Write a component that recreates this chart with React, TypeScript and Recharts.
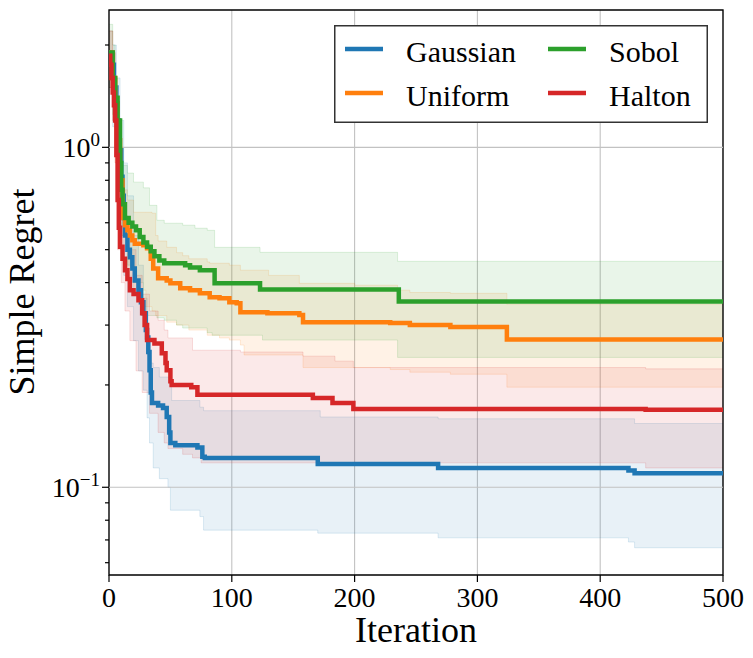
import {
  ComposedChart,
  Line,
  Area,
  XAxis,
  YAxis,
  CartesianGrid,
  ReferenceLine,
  ReferenceArea,
} from 'recharts';

// best-so-far regret: [iteration, value]
const gaussianMean: [number, number][] = [
  [0, 1.9], [2, 1.75], [4, 1.5], [6, 1.2], [8, 0.98], [10, 0.82], [11, 0.72], [12, 0.62],
  [13, 0.55], [15, 0.5], [17, 0.475], [19, 0.44], [21, 0.406], [24, 0.38], [26, 0.35],
  [28, 0.325], [30, 0.29], [31, 0.276], [32, 0.25], [33, 0.221], [34, 0.19], [35, 0.177],
  [40, 0.174], [44, 0.171], [47, 0.161], [49, 0.145], [50, 0.135], [54, 0.133], [72, 0.131],
  [76, 0.123], [78, 0.122], [170, 0.117], [268, 0.114], [423, 0.112], [428, 0.11],
];
const uniformMean: [number, number][] = [
  [0, 1.9], [3, 1.6], [5, 1.35], [7, 1.05], [9, 0.8], [11, 0.62], [13, 0.59], [15, 0.57],
  [17, 0.55], [19, 0.533], [21, 0.52], [28, 0.515], [31, 0.505], [34, 0.47], [36, 0.44],
  [40, 0.412], [47, 0.406], [50, 0.398], [58, 0.385], [66, 0.38], [74, 0.372], [82, 0.362],
  [90, 0.36], [98, 0.35], [104, 0.348], [107, 0.327], [129, 0.325], [155, 0.321],
  [158, 0.306], [229, 0.304], [245, 0.3], [278, 0.296], [324, 0.272],
];
const sobolMean: [number, number][] = [
  [0, 1.9], [3, 1.6], [5, 1.4], [7, 1.2], [9, 0.9], [10, 0.75], [11, 0.68], [13, 0.62],
  [16, 0.6], [19, 0.585], [22, 0.57], [25, 0.545], [28, 0.525], [31, 0.51], [34, 0.495],
  [37, 0.478], [41, 0.465], [45, 0.456], [62, 0.45], [66, 0.443], [74, 0.435], [86, 0.398],
  [123, 0.382], [236, 0.352],
];
const haltonMean: [number, number][] = [
  [0, 1.86], [1, 1.75], [2, 1.6], [3, 1.45], [4, 1.33], [5, 1.2], [6, 0.95], [7, 0.7],
  [8, 0.58], [9, 0.51], [11, 0.47], [13, 0.435], [15, 0.41], [17, 0.38], [20, 0.37],
  [24, 0.355], [27, 0.325], [29, 0.3], [31, 0.271], [37, 0.265], [43, 0.248], [46, 0.232],
  [47, 0.221], [50, 0.205], [51, 0.2], [67, 0.197], [72, 0.187], [166, 0.183], [182, 0.177],
  [199, 0.17], [437, 0.169],
];

// shaded spread: [iteration, low, high]
const gaussianBand: [number, number, number][] = [
  [0, 1.5, 2.2], [3, 1.15, 2.0], [6, 0.8, 1.6], [9, 0.55, 1.2], [12, 0.42, 0.9],
  [15, 0.34, 0.72], [20, 0.27, 0.55], [24, 0.22, 0.45], [28, 0.193, 0.36], [31, 0.16, 0.28],
  [33, 0.135, 0.232], [36, 0.114, 0.225], [41, 0.106, 0.211], [48, 0.1, 0.211],
  [50, 0.0856, 0.211], [51, 0.0856, 0.18], [74, 0.082, 0.172], [77, 0.0748, 0.168],
  [170, 0.0733, 0.168], [172, 0.0733, 0.161], [268, 0.071, 0.159], [423, 0.069, 0.159],
  [428, 0.0664, 0.154],
];
const uniformBand: [number, number, number][] = [
  [0, 1.5, 2.2], [3, 1.2, 1.9], [5, 0.9, 1.5], [7, 0.65, 1.1], [10, 0.5, 0.75],
  [15, 0.42, 0.7], [20, 0.38, 0.644], [30, 0.34, 0.644], [35, 0.33, 0.64], [38, 0.32, 0.55],
  [40, 0.32, 0.53], [47, 0.306, 0.508], [55, 0.3, 0.49], [60, 0.3, 0.48], [65, 0.29, 0.47],
  [80, 0.28, 0.46], [82, 0.28, 0.456], [90, 0.275, 0.456], [98, 0.271, 0.45],
  [107, 0.262, 0.435], [110, 0.245, 0.435], [130, 0.245, 0.42], [155, 0.245, 0.398],
  [158, 0.225, 0.398], [200, 0.225, 0.393], [229, 0.222, 0.393], [235, 0.222, 0.38],
  [245, 0.218, 0.374], [278, 0.215, 0.372], [324, 0.197, 0.345],
];
const sobolBand: [number, number, number][] = [
  [0, 1.5, 2.3], [3, 1.25, 2.0], [5, 1.0, 1.6], [7, 0.75, 1.2], [9, 0.6, 0.95],
  [10, 0.55, 0.885], [15, 0.45, 0.84], [20, 0.4, 0.79], [28, 0.34, 0.76], [30, 0.32, 0.76],
  [33, 0.32, 0.675], [39, 0.315, 0.61], [45, 0.31, 0.598], [55, 0.3, 0.598],
  [60, 0.294, 0.59], [70, 0.294, 0.578], [80, 0.285, 0.57], [84, 0.28, 0.57],
  [86, 0.28, 0.508], [123, 0.28, 0.491], [125, 0.271, 0.491], [235, 0.241, 0.462],
];
const haltonBand: [number, number, number][] = [
  [0, 1.5, 2.2], [3, 1.2, 1.9], [5, 0.9, 1.4], [7, 0.5, 1.0], [10, 0.4, 0.75],
  [13, 0.33, 0.6], [17, 0.27, 0.5], [22, 0.22, 0.42], [27, 0.19, 0.37], [33, 0.165, 0.33],
  [40, 0.145, 0.31], [45, 0.135, 0.29], [48, 0.13, 0.275], [60, 0.125, 0.275],
  [68, 0.122, 0.253], [75, 0.118, 0.253], [107, 0.118, 0.25], [158, 0.118, 0.243],
  [184, 0.118, 0.235], [199, 0.118, 0.225], [437, 0.114, 0.223],
];

const xTicks = [0, 100, 200, 300, 400, 500];
const yTicks = [0.06, 0.07, 0.08, 0.09, 0.1, 0.2, 0.3, 0.4, 0.5, 0.6, 0.7, 0.8, 0.9, 1, 2];
const yMajor = [0.1, 1];
const xDomain: [number, number] = [0, 500];
const yDomain: [number, number] = [0.0552, 2.535];

const series = [
  { name: 'Gaussian', color: '#1f77b4', mean: gaussianMean, band: gaussianBand },
  { name: 'Uniform', color: '#ff7f0e', mean: uniformMean, band: uniformBand },
  { name: 'Sobol', color: '#2ca02c', mean: sobolMean, band: sobolBand },
  { name: 'Halton', color: '#d62728', mean: haltonMean, band: haltonBand },
];

const FONT = 'Liberation Serif';

const toLine = (steps: [number, number][]) => {
  const pts = steps.map(([x, v]) => ({ x, v }));
  pts.push({ x: xDomain[1], v: steps[steps.length - 1][1] });
  return pts;
};

const toBand = (steps: [number, number, number][]) => {
  const pts = steps.map(([x, lo, hi]) => ({ x, r: [lo, hi] }));
  const last = steps[steps.length - 1];
  pts.push({ x: xDomain[1], r: [last[1], last[2]] });
  return pts;
};

function XTick({ x, y, payload }: any) {
  return (
    <text x={x} y={y + 25} textAnchor="middle" fontSize={28} style={{ fontFamily: FONT }} fill="#000">
      {payload.value}
    </text>
  );
}

function YTick({ x, y, payload }: any) {
  const v = payload.value;
  const exp = Math.round(Math.log10(v));
  const major = Math.abs(Math.log10(v) - exp) < 1e-6;
  return (
    <g>
      <line x1={x} x2={x - (major ? 7 : 4)} y1={y} y2={y} stroke="#000" strokeWidth={1.2} />
      {major && (
        <text x={x - 9} y={y + 10} textAnchor="end" fontSize={28} style={{ fontFamily: FONT }} fill="#000">
          10
          <tspan dy={-11} fontSize={19}>
            {exp < 0 ? '\u2212' + Math.abs(exp) : String(exp)}
          </tspan>
        </text>
      )}
    </g>
  );
}

function LegendBox() {
  return (
    <svg
      width={374}
      height={98}
      style={{ position: 'absolute', left: 334, top: 25, fontFamily: FONT }}
    >
      <rect x={0.75} y={0.75} width={372.5} height={96.5} fill="#fff" stroke="#333" strokeWidth={1.5} />
      {series.map((s, i) => {
        const col = Math.floor(i / 2);
        const row = i % 2;
        const lx = col === 0 ? 11 : 214;
        const tx = col === 0 ? 72 : 275;
        const cy = 24 + row * 44;
        return (
          <g key={s.name}>
            <line x1={lx} x2={lx + 38} y1={cy} y2={cy} stroke={s.color} strokeWidth={4.5} />
            <text x={tx} y={cy + 13} fontSize={30} fill="#000" style={{ fontFamily: FONT }}>
              {s.name}
            </text>
          </g>
        );
      })}
    </svg>
  );
}

export default function App() {
  return (
    <div style={{ position: 'absolute', left: 0, top: 0, width: 753, height: 658, background: '#fff', fontFamily: FONT }}>
      <ComposedChart
        width={753}
        height={658}
        margin={{ top: 10, right: 30, bottom: 0, left: 0 }}
        style={{ fontFamily: FONT }}
      >
        <CartesianGrid horizontal={false} stroke="#c2c2c2" strokeWidth={1.1} />
        {yMajor.map((v) => (
          <ReferenceLine key={v} y={v} stroke="#c2c2c2" strokeWidth={1.1} />
        ))}
        <XAxis
          dataKey="x"
          type="number"
          domain={xDomain}
          ticks={xTicks}
          interval={0}
          allowDataOverflow
          height={83}
          axisLine={false}
          tickLine={{ stroke: '#000', strokeWidth: 1.2 }}
          tickSize={7}
          tickMargin={0}
          tick={<XTick />}
        />
        <YAxis
          type="number"
          scale="log"
          domain={yDomain}
          ticks={yTicks}
          interval={0}
          allowDataOverflow
          width={109}
          axisLine={false}
          tickLine={false}
          tickSize={0}
          tickMargin={0}
          tick={<YTick />}
        />
        {series.map((s) => (
          <Area
            key={s.name + '-band'}
            data={toBand(s.band)}
            dataKey="r"
            type="stepAfter"
            fill={s.color}
            fillOpacity={0.1}
            stroke={s.color}
            strokeOpacity={0.14}
            strokeWidth={1}
            dot={false}
            activeDot={false}
            isAnimationActive={false}
          />
        ))}
        {series.map((s) => (
          <Line
            key={s.name}
            data={toLine(s.mean)}
            dataKey="v"
            name={s.name}
            type="stepAfter"
            stroke={s.color}
            strokeWidth={4.5}
            dot={false}
            activeDot={false}
            isAnimationActive={false}
          />
        ))}
        <ReferenceArea
          x1={xDomain[0]}
          x2={xDomain[1]}
          y1={yDomain[0]}
          y2={yDomain[1]}
          fill="none"
          stroke="#000"
          strokeWidth={1.3}
          ifOverflow="visible"
        />
      </ComposedChart>
      <svg
        width={753}
        height={658}
        style={{ position: 'absolute', left: 0, top: 0, pointerEvents: 'none', fontFamily: FONT }}
      >
        <text x={416} y={642} textAnchor="middle" fontSize={36} fill="#000">
          Iteration
        </text>
        <text
          x={34}
          y={292}
          textAnchor="middle"
          fontSize={36}
          fill="#000"
          transform="rotate(-90 34 292)"
        >
          Simple Regret
        </text>
      </svg>
      <LegendBox />
    </div>
  );
}
